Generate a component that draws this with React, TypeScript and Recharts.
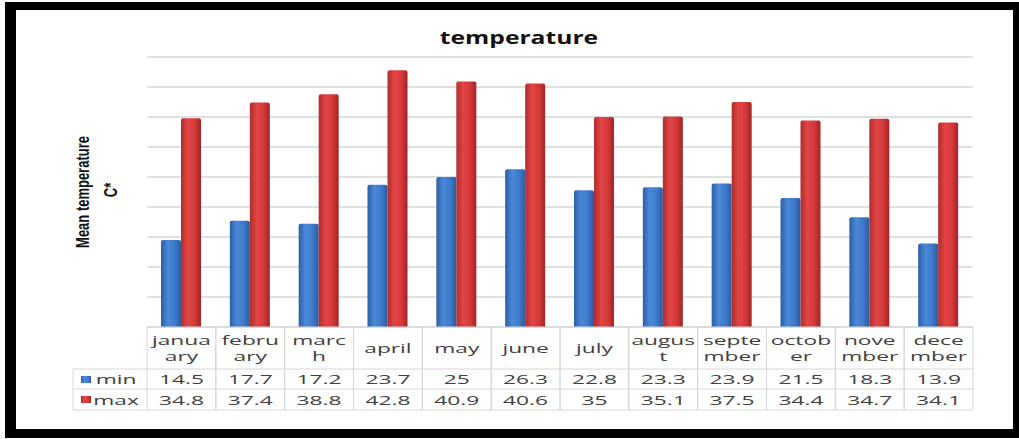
import { Bar, BarChart, CartesianGrid, XAxis, YAxis } from "recharts";

const months = [
  "janua\nary", "febru\nary", "marc\nh", "april", "may", "june",
  "july", "augus\nt", "septe\nmber", "octob\ner", "nove\nmber", "dece\nmber",
];
const minTemp = [14.5, 17.7, 17.2, 23.7, 25, 26.3, 22.8, 23.3, 23.9, 21.5, 18.3, 13.9];
const maxTemp = [34.8, 37.4, 38.8, 42.8, 40.9, 40.6, 35, 35.1, 37.5, 34.4, 34.7, 34.1];
const yTicks = [0, 5, 10, 15, 20, 25, 30, 35, 40, 45];

const rows = months.map((m, i) => ({ label: m, min: minTemp[i], max: maxTemp[i] }));

const SX = 1.75; // source picture is stretched sideways
const TXT = "#404040";
const LINE = "#d6d6d6";
const FONT = "'Open Sans', sans-serif";

function Txt({ x, y, children, size = 13, weight = 400 }: any) {
  return (
    <text
      transform={`translate(${x},${y}) scale(${SX},1)`}
      textAnchor="middle"
      fontFamily={FONT}
      fontSize={size}
      fontWeight={weight}
      fill={TXT}
    >
      {children}
    </text>
  );
}

// one column of the data table under each month
function TableTick(props: any) {
  const { x, y, payload, width, visibleTicksCount } = props;
  const i = payload.index;
  const bw = width / visibleTicksCount;
  const l = x - bw / 2;
  const r = x + bw / 2;
  const r1 = y + 42, r2 = y + 62, r3 = y + 83;
  const lines = String(payload.value).split("\n");
  return (
    <g>
      <line x1={l} x2={l} y1={y} y2={r3} stroke={LINE} />
      <line x1={r} x2={r} y1={y} y2={r3} stroke={LINE} />
      <line x1={l} x2={r} y1={r1} y2={r1} stroke={LINE} />
      <line x1={l} x2={r} y1={r2} y2={r2} stroke={LINE} />
      <line x1={l} x2={r} y1={r3} y2={r3} stroke={LINE} />
      {lines.length > 1 ? (
        <>
          <Txt x={x} y={y + 18}>{lines[0]}</Txt>
          <Txt x={x} y={y + 34}>{lines[1]}</Txt>
        </>
      ) : (
        <Txt x={x} y={y + 26}>{lines[0]}</Txt>
      )}
      <Txt x={x} y={r1 + 15}>{minTemp[i]}</Txt>
      <Txt x={x} y={r2 + 16}>{maxTemp[i]}</Txt>
      {i === 0 && (
        <g>
          <line x1={l - 74} x2={l - 74} y1={r1} y2={r3} stroke={LINE} />
          <line x1={l - 74} x2={l} y1={r1} y2={r1} stroke={LINE} />
          <line x1={l - 74} x2={l} y1={r2} y2={r2} stroke={LINE} />
          <line x1={l - 74} x2={l} y1={r3} y2={r3} stroke={LINE} />
          <rect x={l - 66} y={r1 + 7} width={10} height={7} fill="url(#gBlue)" />
          <rect x={l - 66} y={r2 + 7} width={10} height={7} fill="url(#gRed)" />
          <Txt x={l - 31} y={r1 + 15}>min</Txt>
          <Txt x={l - 31} y={r2 + 16}>max</Txt>
        </g>
      )}
    </g>
  );
}

const labelFont = "'Liberation Sans Narrow', 'Liberation Sans', sans-serif";

export default function App() {
  return (
    <div style={{ position: "absolute", left: 0, top: 0, width: 1019, height: 439, background: "#fff" }}>
      <BarChart
        width={1019}
        height={439}
        data={rows}
        margin={{ top: 57, right: 46, left: 147, bottom: 29 }}
        barGap={0}
        barSize={20}
      >
        <defs>
          <linearGradient id="gBlue" x1="0" y1="0" x2="1" y2="0">
            <stop offset="0%" stopColor="#2c5ea6" />
            <stop offset="35%" stopColor="#4a88d8" />
            <stop offset="70%" stopColor="#3e7acb" />
            <stop offset="100%" stopColor="#2b5aa0" />
          </linearGradient>
          <linearGradient id="gRed" x1="0" y1="0" x2="1" y2="0">
            <stop offset="0%" stopColor="#b02c2c" />
            <stop offset="35%" stopColor="#e24545" />
            <stop offset="70%" stopColor="#d43939" />
            <stop offset="100%" stopColor="#a02424" />
          </linearGradient>
        </defs>
        <CartesianGrid vertical={false} stroke={LINE} strokeWidth={1.5} />
        <YAxis
          domain={[0, 45]}
          ticks={yTicks}
          width={0}
          tick={() => <g />}
          tickLine={false}
          axisLine={{ stroke: LINE }}
        />
        <XAxis
          dataKey="label"
          interval={0}
          height={83}
          tickSize={0}
          tickMargin={0}
          tickLine={false}
          axisLine={{ stroke: LINE }}
          tick={<TableTick />}
        />
        <Bar dataKey="min" fill="url(#gBlue)" radius={[2, 2, 0, 0]} isAnimationActive={false} />
        <Bar dataKey="max" fill="url(#gRed)" radius={[2, 2, 0, 0]} isAnimationActive={false} />
        <text
          transform="translate(519,44) scale(1.45,1)"
          textAnchor="middle"
          fontFamily={FONT}
          fontSize={17}
          fontWeight={700}
          fill="#111"
        >
          temperature
        </text>
        <text
          transform="translate(89,192) scale(1.4,1) rotate(-90)"
          textAnchor="middle"
          fontFamily={labelFont}
          fontSize={13}
          fontWeight={700}
          fill="#111"
        >
          Mean temperature
        </text>
        <text
          transform="translate(117,190) scale(1.4,1) rotate(-90)"
          textAnchor="middle"
          fontFamily={labelFont}
          fontSize={13}
          fontWeight={700}
          fill="#111"
        >
          C*
        </text>
      </BarChart>
      <div
        style={{
          position: "absolute",
          left: 5,
          top: 2,
          width: 1014,
          height: 436,
          boxSizing: "border-box",
          borderStyle: "solid",
          borderColor: "#000",
          borderWidth: "8px 6px 9px 11px",
          pointerEvents: "none",
        }}
      />
    </div>
  );
}
